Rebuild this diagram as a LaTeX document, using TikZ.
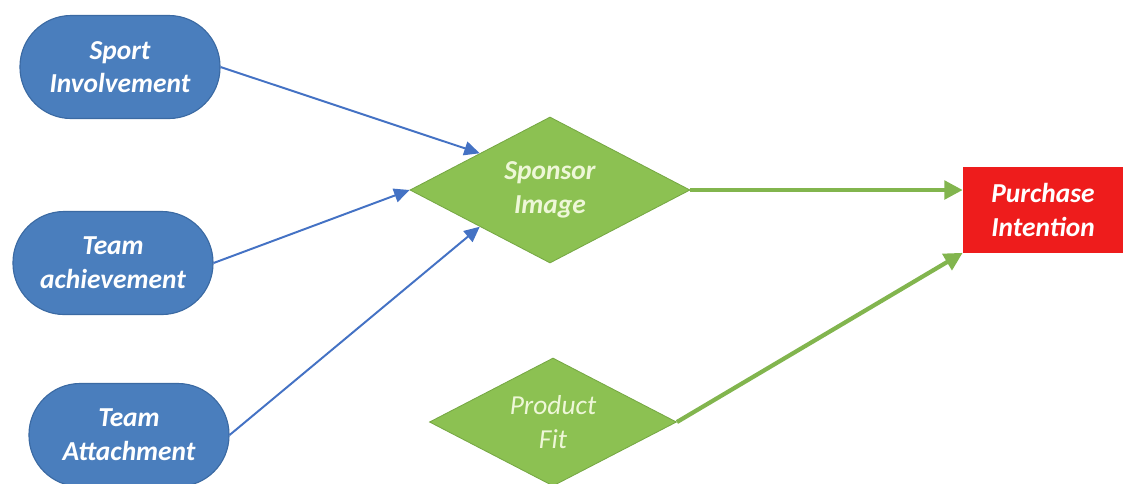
\documentclass[tikz,border=0pt]{standalone}
\usepackage{fontspec}
\setmainfont{Carlito}
\usetikzlibrary{shapes.geometric,arrows.meta,calc}
\definecolor{nblue}{HTML}{4A7EBD}
\definecolor{nbluedk}{HTML}{3B6AA3}
\definecolor{ngreen}{HTML}{8CC152}
\definecolor{ngreendk}{HTML}{76A844}
\definecolor{nred}{HTML}{EE1C1C}
\definecolor{ablue}{HTML}{4472C4}
\definecolor{agreen}{HTML}{82B54E}
\definecolor{pale}{HTML}{EEF7D8}
\tikzset{
  txt/.style={font=\fontsize{19.5}{24}\selectfont\bfseries\itshape, text=white, align=center},
  oval/.style={txt, rectangle, rounded corners=1.28cm, fill=nblue, draw=nbluedk, line width=0.8pt,
    minimum width=5cm, minimum height=2.575cm, inner sep=0pt},
  dia/.style={diamond, aspect=1.9, fill=ngreen, draw=ngreendk, line width=0.6pt, inner sep=0pt},
  bluearrow/.style={draw=ablue, line width=1.4pt, -{Triangle[length=11pt,width=10pt]}},
  greenarrow/.style={draw=agreen, line width=3pt, -{Triangle[length=13pt,width=13pt]}},
}
\begin{document}
\begin{tikzpicture}[x=0.025cm, y=-0.025cm]
\useasboundingbox (0,0) rectangle (1124,483);
\node[oval] (sport) at (120,67) {Sport\\Involvement};
\node[oval] (ach) at (113,263) {Team\\achievement};
\node[oval] (att) at (129,435) {Team\\Attachment};
\node[dia, txt, text=pale, minimum width=7cm, minimum height=3.65cm] (spon) at (550,190) {Sponsor\\Image};
\node[dia, minimum width=6.175cm, minimum height=3.2cm, font=\fontsize{19.5}{24}\selectfont\itshape, text=pale, align=center] (fit) at (553,422) {Product\\Fit};
\node[txt, rectangle, fill=nred, minimum width=4cm, minimum height=2.125cm, inner sep=0pt] (pur) at (1043,210) {Purchase\\Intention};
\draw[bluearrow] (sport.east) -- ($(spon.west)!0.5!(spon.north)$);
\draw[bluearrow] (ach.east) -- (spon.west);
\draw[bluearrow] (att.east) -- ($(spon.west)!0.5!(spon.south)$);
\draw[greenarrow] (spon.east) -- (spon.east -| pur.west);
\draw[greenarrow] (fit.east) -- (pur.south west);
\end{tikzpicture}
\end{document}
